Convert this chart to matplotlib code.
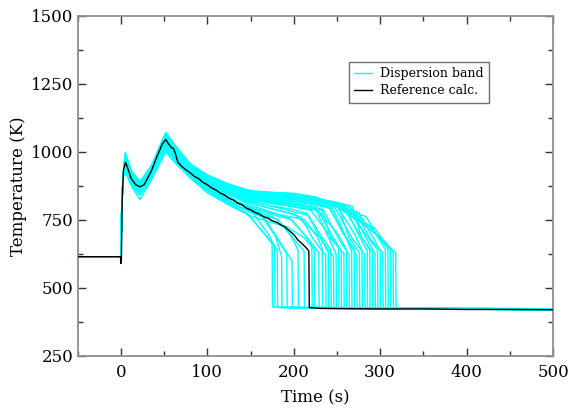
import numpy as np
import matplotlib
matplotlib.use("Agg")
import matplotlib.pyplot as plt
from matplotlib.lines import Line2D
from matplotlib.ticker import MultipleLocator

# ---------------- data ----------------
# Reference calculation (black line)
ref_t = [-50, -0.5, 0, 0.6, 1.5, 3, 5.5, 8, 12, 17, 22, 27, 35, 42, 48, 52, 55, 58, 61, 63,
         66, 70, 75, 80, 85, 90, 95, 100, 105, 110, 115, 120, 125, 130, 135, 140, 145, 150, 155, 160,
         165, 170, 175, 180, 185, 190, 195, 200, 205, 210, 215, 217.5, 218, 230, 260, 300, 350, 400, 450, 500]
ref_T = [615, 615, 590, 600, 820, 935, 962, 940, 902, 880, 872, 880, 928, 985, 1030, 1046, 1030, 1018, 1012, 995,
         962, 948, 935, 924, 910, 902, 888, 880, 868, 860, 849, 842, 830, 824, 812, 806, 794, 787, 778, 772,
         762, 757, 747, 742, 732, 724, 710, 697, 676, 662, 646, 636, 428, 425, 424, 423, 423, 421, 421, 420]

# Dispersion band runs: common start
start_t = [-50, 0, 1, 2.5]
start_T = [615, 615, 790, 905]

nan = float("nan")
# temperature of each run at fixed times (K); nan = run already quenching
T_at_5 = [945, 960, 938, 975, 952, 990, 932, 968, 955, 980, 948, 962, 940, 995, 958, 972, 944, 985, 950, 965,
          936, 978, 955, 988, 946, 970, 960, 998, 942, 966, 952, 980, 956, 990, 948, 972, 962, 985, 958, 930]
T_at_12 = [895, 905, 880, 915, 900, 925, 878, 910, 902, 918, 896, 908, 888, 930, 905, 912, 890, 922, 898, 910,
           884, 916, 902, 925, 894, 912, 906, 932, 890, 908, 900, 918, 902, 926, 895, 914, 906, 922, 902, 875]
T_at_22 = [862, 870, 848, 878, 868, 885, 840, 874, 866, 882, 860, 872, 852, 890, 868, 876, 855, 886, 864, 872,
           850, 880, 868, 888, 858, 875, 870, 892, 856, 872, 866, 882, 868, 888, 862, 878, 870, 884, 868, 825]
T_at_35 = [915, 925, 905, 935, 922, 940, 900, 930, 928, 938, 918, 930, 912, 945, 925, 934, 915, 942, 920, 930,
           910, 936, 925, 944, 918, 932, 928, 948, 915, 930, 924, 938, 926, 946, 920, 934, 928, 942, 926, 895]
T_at_52 = [1030, 1040, 1010, 1055, 1035, 1065, 1005, 1048, 1042, 1058, 1025, 1050, 1018, 1070, 1040, 1052, 1022, 1062, 1030, 1045,
           1015, 1058, 1038, 1066, 1028, 1050, 1042, 1072, 1020, 1048, 1036, 1060, 1040, 1068, 1030, 1055, 1045, 1062, 1040, 1000]
T_at_62 = [985, 1000, 975, 1010, 995, 1020, 970, 1005, 998, 1012, 990, 1008, 982, 1025, 1000, 1010, 988, 1018, 995, 1005,
           980, 1012, 1000, 1020, 990, 1008, 1002, 1028, 985, 1006, 998, 1015, 1000, 1022, 992, 1010, 1004, 1016, 1000, 962]
T_at_80 = [915, 925, 910, 930, 920, 945, 912, 928, 930, 940, 922, 938, 925, 955, 935, 945, 928, 950, 935, 942,
           925, 948, 940, 952, 935, 945, 942, 958, 932, 944, 940, 950, 942, 955, 938, 948, 944, 952, 942, 905]
T_at_100 = [858, 862, 852, 870, 866, 880, 860, 872, 875, 885, 870, 890, 880, 900, 888, 895, 885, 905, 892, 900,
            888, 905, 900, 910, 895, 905, 900, 915, 895, 905, 902, 912, 905, 915, 900, 910, 908, 915, 906, 850]
T_at_125 = [812, 815, 808, 822, 820, 835, 818, 828, 832, 842, 830, 850, 845, 858, 852, 860, 850, 865, 858, 864,
            855, 868, 865, 872, 862, 870, 866, 878, 862, 872, 870, 878, 872, 880, 868, 876, 874, 882, 874, 805]
T_at_150 = [nan, nan, nan, 778, 778, 792, 780, 790, 795, 805, 798, 815, 812, 822, 820, 830, 825, 835, 828, 835,
            830, 840, 838, 845, 838, 842, 842, 850, 840, 848, 846, 852, 848, 855, 845, 850, 852, 858, 852, 765]
T_at_175 = [nan, nan, nan, nan, nan, nan, nan, 762, 770, 778, 775, 792, 790, 800, 802, 812, 810, 820, 815, 822,
            818, 828, 825, 835, 830, 832, 835, 840, 835, 842, 840, 845, 842, 848, 840, 845, 848, 852, 850, 740]
T_at_200 = [nan, nan, nan, nan, nan, nan, nan, nan, nan, nan, nan, 770, 772, 780, 788, 800, 798, 808, 805, 812,
            810, 820, 818, 828, 825, 826, 830, 835, 832, 840, 838, 842, 842, 845, 838, 842, 845, 848, 846, nan]
T_at_225 = [nan, nan, nan, nan, nan, nan, nan, nan, nan, nan, nan, nan, nan, nan, nan, nan, nan, nan, nan, 798,
            798, 808, 805, 815, 812, 818, 820, 825, 822, 830, 828, 832, 830, 832, 825, 828, 830, 835, 830, nan]
T_at_250 = [nan, nan, nan, nan, nan, nan, nan, nan, nan, nan, nan, nan, nan, nan, nan, nan, nan, nan, nan, nan,
            nan, nan, nan, nan, nan, nan, nan, 808, 810, 815, 812, 808, 805, 805, 800, 802, 800, 805, 798, nan]
T_at_275 = [nan, nan, nan, nan, nan, nan, nan, nan, nan, nan, nan, nan, nan, nan, nan, nan, nan, nan, nan, nan,
            nan, nan, nan, nan, nan, nan, nan, nan, nan, nan, nan, nan, nan, nan, nan, nan, 748, 752, 745, nan]
knot_t = [5, 12, 22, 35, 52, 62, 80, 100, 125, 150, 175, 200, 225, 250, 275]

# shoulder, pre-quench point and quench (drop) of each run
shoulder_time = [145, 153, 148, 164, 164, 164, 181, 182, 197, 196, 212, 208, 205, 217, 215, 226, 220, 227, 233, 227,
                 234, 245, 243, 240, 252, 250, 247, 259, 257, 268, 266, 263, 275, 273, 284, 277, 285, 282, 294, 192]
shoulder_T = [776, 774, 768, 768, 760, 768, 752, 750, 752, 755, 752, 762, 760, 768, 775, 785, 785, 790, 785, 790,
              788, 795, 792, 800, 798, 802, 800, 800, 798, 800, 795, 785, 778, 770, 762, 758, 735, 730, 720, 725]
pre_time = [163, 169, 167, 179, 181, 183, 197, 199, 214, 217, 227, 223, 231, 232, 233, 241, 240, 245, 243, 252,
            253, 260, 257, 263, 264, 271, 268, 276, 277, 278, 284, 285, 292, 289, 297, 298, 299, 305, 306, 212]
pre_drop_T = [712, 705, 695, 690, 680, 675, 690, 685, 690, 680, 690, 678, 685, 690, 672, 680, 700, 690, 680, 695,
              675, 690, 700, 672, 685, 695, 680, 690, 695, 688, 682, 690, 685, 678, 688, 690, 682, 672, 662, 685]
drop_time = [175, 178, 181, 186, 192, 198, 205, 212, 224, 229, 233, 237, 240, 243, 246, 249, 252, 255, 258, 261,
             264, 267, 270, 273, 276, 279, 282, 285, 288, 291, 294, 297, 300, 303, 306, 309, 312, 315, 318, 221]
drop_T = [664, 655, 640, 615, 625, 600, 640, 635, 640, 630, 645, 620, 630, 640, 615, 625, 650, 635, 628, 640,
          622, 635, 645, 618, 630, 640, 625, 635, 640, 632, 628, 640, 636, 630, 642, 645, 640, 635, 630, 650]
final_T = [430, 429, 428, 428, 427, 427, 426, 426, 426, 425, 426, 425, 425, 425, 426, 425, 426, 425, 425, 425,
           424, 425, 425, 424, 425, 425, 424, 425, 425, 424, 425, 424, 425, 424, 425, 424, 425, 424, 425, 428]
end_T = [424, 423, 423, 422, 422, 422, 421, 421, 422, 421, 422, 421, 421, 420, 421, 421, 422, 421, 421, 420,
         421, 421, 420, 421, 421, 420, 421, 421, 420, 421, 421, 420, 421, 420, 421, 421, 420, 421, 421, 423]

x_ticks = [0, 100, 200, 300, 400, 500]
y_ticks = [250, 500, 750, 1000, 1250, 1500]

# ---------------- plotting ----------------
plt.rcParams['font.family'] = ['DejaVu Serif']
fig = plt.figure(figsize=(5.71, 4.08), dpi=100)
ax = fig.add_axes([0.136, 0.1275, 0.8325, 0.8333])

CYAN = '#00FFFF'
knot_cols = [T_at_5, T_at_12, T_at_22, T_at_35, T_at_52, T_at_62, T_at_80, T_at_100, T_at_125,
             T_at_150, T_at_175, T_at_200, T_at_225, T_at_250, T_at_275]
for i in range(len(drop_time)):
    td = drop_time[i]
    ts = list(start_t)
    Ts = list(start_T)
    for kt, col in zip(knot_t, knot_cols):
        if not np.isnan(col[i]):
            ts.append(kt)
            Ts.append(col[i])
    ts += [shoulder_time[i], pre_time[i], td, td + 0.4, 500]
    Ts += [shoulder_T[i], pre_drop_T[i], drop_T[i], final_T[i], end_T[i]]
    ax.plot(ts, Ts, color=CYAN, lw=1.0, zorder=2)

ax.plot(ref_t, ref_T, color='black', lw=1.0, zorder=3)

ax.set_xlim(-50, 500)
ax.set_ylim(250, 1500)
ax.set_xticks(x_ticks)
ax.set_yticks(y_ticks)
ax.xaxis.set_minor_locator(MultipleLocator(50))
ax.yaxis.set_minor_locator(MultipleLocator(125))
ax.tick_params(which='both', direction='in', top=True, right=True, color='#333333', width=1.0)
ax.tick_params(which='major', length=6, labelsize=12)
ax.tick_params(which='minor', length=3.3)
ax.tick_params(axis='x', which='major', pad=5.5)
ax.tick_params(axis='y', which='major', pad=3)
for s in ax.spines.values():
    s.set_color('#909090')
    s.set_linewidth(1.3)

ax.set_xlabel('Time (s)', fontsize=12, labelpad=6)
ax.set_ylabel('Temperature (K)', fontsize=12, labelpad=3)

handles = [Line2D([], [], color=CYAN, lw=1.0), Line2D([], [], color='black', lw=1.0)]
leg = ax.legend(handles, ['Dispersion band', 'Reference calc.'], loc='upper left',
                bbox_to_anchor=(0.571, 0.8656), borderaxespad=0, fontsize=9,
                fancybox=False, framealpha=1, edgecolor='#707070', handlelength=1.4,
                handletextpad=0.66, labelspacing=0.35, borderpad=0.43)
leg.get_frame().set_linewidth(1.0)

fig.savefig('out.png', dpi=100)
